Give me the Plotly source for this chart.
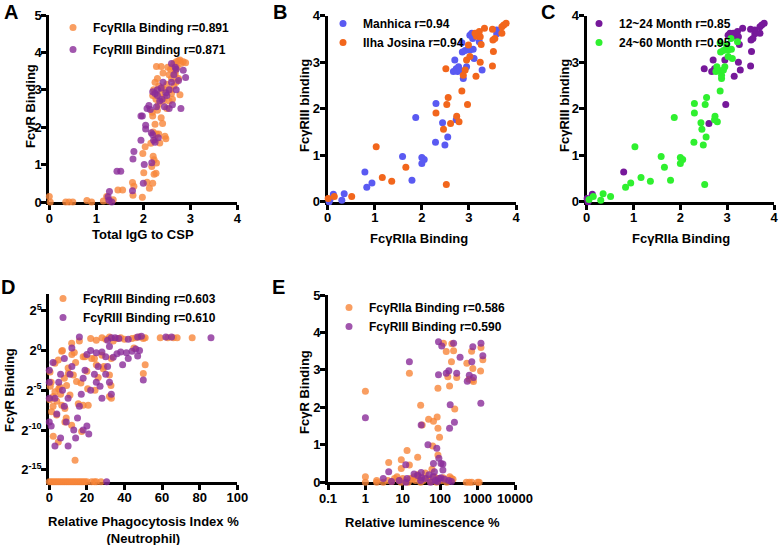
#!/usr/bin/env python3
"""
FcgR binding panels (A-E) rebuilt with plotly.
- A: FcgR binding vs total IgG to CSP
- B/C: FcgRIIa vs FcgRIII binding, coloured by site and by age group
- D: FcgR binding vs neutrophil phagocytosis (log2 axis)
- E: FcgR binding vs relative luminescence (log10 axis)
"""
import numpy as np
import plotly.graph_objects as go

# ---- Panel A: total IgG to CSP vs FcgR binding
a_iia_x = [0.0, 0.02, 0.35, 0.42, 0.5, 0.8, 0.9, 1.15, 1.22, 1.27, 1.36, 1.46, 1.56, 1.77, 1.8,
           1.78, 1.98, 2.01, 1.99, 2.04, 2.08, 2.13, 2.2, 2.16, 2.18, 2.23, 2.27, 2.23, 2.21, 2.28,
           2.21, 2.25, 2.28, 2.33, 2.35, 2.41, 2.46, 2.48, 2.19, 2.25,
           2.28, 2.38, 2.2, 2.22, 2.25, 2.3, 2.27, 2.32, 2.35, 2.4, 2.42, 2.45, 2.5, 2.5, 2.55, 2.58,
           2.6, 2.62, 2.65, 2.68, 2.7, 2.72, 2.75, 2.78, 2.8, 2.85, 2.9, 2.6, 2.65, 2.7, 2.75, 2.55,
           2.62, 2.78, 2.2, 2.3, 2.38, 2.68, 2.52, 2.42, 2.33, 2.45, 2.58]
a_iia_y = [0.15, 0.0, 0.0, 0.0, 0.0, 0.04, 0.0, 0.03, 0.15, 0.03, 0.06, 0.32, 0.32, 0.52, 0.42,
           0.18, 0.13, 0.78, 1.3, 1.48, 0.53, 0.37, 0.5, 1.57, 0.95, 0.74, 0.77, 1.13, 1.22, 1.04,
           1.87, 1.67, 1.82, 1.82, 1.58, 2.1, 1.76, 1.69, 2.4, 2.08,
           3.62, 3.62, 2.85, 3.0, 3.2, 3.3, 2.75, 2.6, 2.9, 3.05, 2.7, 3.0, 3.15, 2.5, 3.4, 3.55,
           3.3, 3.6, 3.7, 3.5, 3.75, 3.6, 3.78, 3.8, 3.7, 3.75, 3.72, 2.9, 3.1, 3.2, 3.3, 2.7,
           2.75, 2.87, 2.3, 2.45, 2.25, 3.42, 3.6, 3.45, 3.1, 2.8, 3.0]
a_iii_x = [1.25, 1.28, 1.33, 1.27, 1.44, 1.52, 1.77, 1.8, 1.78, 2.0, 2.02, 1.95, 1.98, 1.95, 2.05,
           2.08, 2.12, 2.15, 2.17, 2.2, 2.22, 2.28, 2.18, 2.25, 2.3, 2.35, 2.4, 2.45, 2.5, 2.55,
           2.6, 2.65, 2.7, 2.75, 2.8, 2.85, 2.9, 2.7, 2.62, 2.55, 2.42, 2.38, 2.3, 2.2, 2.48,
           2.68, 2.6, 2.25, 2.32, 2.05]
a_iii_y = [0.14, 0.28, 0.0, 0.05, 0.82, 0.82, 0.3, 1.35, 1.15, 0.5, 1.0, 1.65, 2.3, 2.3, 2.05,
           2.5, 2.58, 2.47, 1.85, 1.8, 1.65, 2.55, 1.05, 2.9, 2.85, 2.7, 2.75, 2.55, 2.85, 3.0,
           3.2, 3.4, 3.55, 3.25, 2.5, 3.52, 3.33, 3.0, 2.6, 2.5, 3.2, 3.05, 3.0, 2.95, 2.92,
           3.6, 3.7, 1.6, 1.72, 1.95]

# ---- Panels B/C: FcgRIIa vs FcgRIII binding per child; site and age group
bc_x = [0.03, 0.05, 0.12, 0.35, 0.3, 0.79, 0.83, 0.94, 1.59, 1.79, 1.87, 2.0, 2.05, 2.0, 2.29,
        2.3, 2.44, 2.49, 2.55, 2.73, 2.67, 2.73, 2.7, 2.78, 2.76, 2.81, 2.85, 2.86, 2.88, 2.92,
        2.95, 2.99, 3.02, 3.06, 3.08, 3.09, 3.11, 3.02, 3.22, 3.28, 3.59, 3.59,
        0.01, 0.14, 0.51, 1.03, 1.16, 1.36, 1.66, 2.3, 2.46, 2.51, 2.52, 2.53, 2.56, 2.61, 2.74,
        2.79, 2.85, 2.88, 2.92, 2.97, 2.95, 2.99, 3.02, 3.15, 3.24, 3.26, 3.16, 3.22, 3.24, 3.33,
        3.5, 3.51, 3.52, 3.55, 3.5, 3.7, 3.7, 3.74, 3.79, 3.13]
bc_y = [0.0, 0.05, 0.16, 0.17, 0.03, 0.64, 0.31, 0.4, 0.97, 0.46, 1.81, 0.95, 0.91, 0.82, 1.28,
        2.11, 1.7, 1.22, 1.39, 1.76, 2.8, 2.86, 3.05, 2.9, 2.8, 2.83, 3.42, 3.22, 2.65, 3.25,
        2.9, 3.3, 3.58, 3.62, 3.51, 3.28, 3.08, 3.26, 3.44, 2.83, 3.61, 3.69,
        0.07, 0.11, 0.11, 1.18, 0.52, 0.44, 0.74, 1.91, 1.56, 2.86, 0.37, 2.09, 2.24, 1.68, 1.84,
        1.72, 2.38, 2.72, 2.83, 2.09, 3.05, 3.37, 3.12, 2.7, 3.0, 3.38, 3.56, 3.66, 3.55, 3.73,
        2.92, 3.48, 3.23, 3.51, 3.71, 3.62, 3.76, 3.8, 3.84, 3.62]
bc_site = ['M'] * 42 + ['I'] * 40
bc_age = ['Y', 'O', 'Y', 'O', 'O', 'Y', 'O', 'O', 'O', 'O', 'O', 'O', 'O', 'O', 'O',
          'O', 'O', 'O', 'O', 'O', 'Y', 'Y', 'Y', 'O', 'O', 'O', 'O', 'O', 'O', 'O',
          'O', 'O', 'Y', 'Y', 'O', 'O', 'O', 'O', 'O', 'Y', 'Y', 'Y',
          'Y', 'O', 'O', 'O', 'O', 'O', 'O', 'O', 'O', 'Y', 'O', 'O', 'O', 'Y', 'O',
          'O', 'O', 'O', 'O', 'Y', 'Y', 'O', 'O', 'Y', 'Y', 'Y', 'Y', 'Y', 'Y', 'Y',
          'Y', 'Y', 'Y', 'Y', 'Y', 'Y', 'Y', 'Y', 'Y', 'Y']

# ---- Panel D: neutrophil phagocytosis vs FcgR binding (log2 exponent)
d_iia_x = [16, 22, 25, 28, 30, 32, 34, 36, 38, 40, 44, 46, 48, 50, 51, 59, 63, 66, 68, 76,
           7, 12, 18, 24, 28, 33, 45, 11.9,
           6.6, 13.3, 3.0, 4.8, 19, 22.5, 25, 28.7, 32, 32.8, 32, 33, 51, 50, 10.1, 12.8, 14.5,
           9.2, 5.7, 3, 2.1, 4.0, 6.6, 8.3, 11, 15.4, 18, 20.7, 24.3, 16.8, 20.4, 1.2, 3.9, 8.3,
           11.9, 17.2, 2.1, 4.8, 13.7, 0.4, 0.5, 0.3, 1.0, 5, 8, 10, 14, 20, 26, 29, 2, 6, 9]
d_iia_e = [1.2, 1.5, 1.3, 1.6, 1.4, 1.7, 1.2, 1.5, 1.6, 1.4, 1.5, 1.6, 1.7, 1.5, 1.6, 1.6, 1.6, 1.6, 1.6, 1.6,
           0.0, -0.5, -0.8, -1.0, -0.6, -1.0, 0.3, 0.9,
           -0.1, -0.25, -1.6, -1.2, -0.8, -1.0, -1.8, -2.3, -3.1, -4.4, -5.8, -6.0, -1.8, -2.9, -2.9,
           -3.1, -3.9, -4.4, -4.6, -5.2, -5.8, -6.4, -6.9, -7.3, -5.6, -6.7, -6.9, -6.9, -5.0, -4.1,
           -4.8, -7.7, -8.1, -9.0, -9.4, -10.2, -10.8, -11.5, -13.8, -2.7, -4.5, -6.2, -4.0, -4.8,
           -3.5, -2.2, -1.5, -2.6, -3.4, -2.0, -7.0, -5.5, -8.5]
d_iii_x = [16, 31, 33, 35, 37, 42, 47, 49, 65, 86, 62,
           2, 8, 12, 20, 22, 25, 28, 30, 32, 34, 36, 38, 41, 44, 46, 48, 39, 42, 47, 50,
           0, 0, 0, 0, 1, 3, 4, 5, 6, 7, 8, 9, 10, 11, 12, 13, 14, 15, 16, 17, 18, 19, 20, 22,
           24, 25, 26, 28, 30, 31, 32, 33, 3, 6, 18, 21, 27, 10]
d_iii_e = [1.7, 1.3, 1.6, 1.6, 1.5, 1.4, 1.7, 1.8, 1.7, 1.6, 1.7,
           -1.5, -1.0, 0.3, -0.5, 0.0, -0.3, -0.2, -0.8, 0.5, -0.85, -0.4, -0.2, -0.3, -0.1, 0.2,
           0.0, -1.8, -1.0, -0.7, -3.7,
           -2.5, -4.0, -6.0, -9.0, -9.5, -6.0, -8.0, -4.0, -3.0, -5.0, -7.0, -9.0, -6.0, -3.0,
           -2.0, -10.0, -11.0, -8.5, -7.0, -5.5, -3.5, -2.5, -9.5, -5.0, -3.0, -4.0, -2.0, -6.0,
           -3.0, -2.0, -4.0, -5.5, -12.0, -11.0, -10.0, -10.5, -4.5, -12.0]
# samples with zero binding (drawn on the axis floor)
d_iia_zero_x = [0, 1, 2, 3, 4, 5, 6, 7, 8, 9, 10, 11, 12, 13, 14, 15, 16, 17, 18, 19, 20,
                22.5, 24, 25, 27.5]
d_iii_zero_x = [30.5]

# ---- Panel E: relative luminescence vs FcgR binding
e_iia_x = [1, 15, 30, 33, 49, 66, 83, 87, 96, 87, 63, 87, 13, 25, 9.1, 4.2, 9.1, 15,
           145, 205, 228, 122, 160, 178, 200, 276, 245, 515, 692, 713, 776, 1230, 1200, 1380,
           745, 590,
           1, 1, 2, 2, 3, 4, 5, 6, 7, 8, 9, 10, 11, 12, 14, 16, 18, 20, 22, 25, 28, 30, 35, 40,
           45, 50, 55, 60, 70, 80, 90, 110, 120, 150, 180, 200, 220, 500, 600, 700, 1000, 1100]
e_iia_y = [2.43, 2.91, 2.06, 1.53, 1.68, 1.63, 1.74, 1.44, 1.2, 2.51, 0.97, 0.73, 0.85, 0.67,
           0.6, 0.53, 0.37, 0.46,
           3.49, 3.7, 3.51, 3.71, 2.82, 2.57, 3.22, 2.8, 1.96, 3.18, 3.5, 2.73, 2.69, 3.6, 2.97,
           3.27, 3.04, 2.75,
           0, 0.15, 0, 0.05, 0, 0.05, 0.02, 0.1, 0.15, 0.05, 0, 0.1, 0.02, 0.05, 0, 0.1, 0.08,
           0.15, 0.05, 0.2, 0.12, 0, 0.05, 0.25, 0.1, 0.08, 0.02, 0.35, 0.15, 0, 0.1, 0.05, 0.12,
           0, 0.15, 0.1, 0.08, 0, 0, 0, 0, 0]
e_iii_x = [1, 15, 31, 47, 81, 90, 90, 110, 145, 170, 228, 185, 178, 240, 276, 340, 530, 600,
           700, 745, 776, 1230, 1380, 1220, 92, 105, 118, 118, 66, 12, 70, 4.2, 31,
           3, 5, 8, 12, 13, 20, 25, 30, 32, 40, 50, 55, 65, 75, 85, 95, 105, 130, 170, 200]
e_iii_y = [1.72, 3.22, 1.53, 1.0, 0.91, 2.87, 3.75, 3.64, 2.91, 2.98, 3.71, 2.07, 1.44, 1.6,
           2.91, 3.34, 2.7, 2.86, 3.22, 3.62, 2.8, 3.71, 3.38, 2.11, 0.64, 0.5, 0.49, 0.33, 0.5,
           0.47, 0.28, 0.28, 0.26,
           0.1, 0.02, 0.05, 0.0, 0.1, 0.22, 0.18, 0.05, 0.12, 0.1, 0.2, 0.0, 0.15, 0.05, 0.02,
           0.1, 0.12, 0.08, 0.05, 0.02]

# Style constants
W, H = 779, 545
FONT = 'Liberation Sans, Arial, Helvetica, sans-serif'
ORANGE = '#F7863A'
PURPLE = '#8A2C98'
BLUE = '#5A5AF2'
RED_ORANGE = '#F2661C'
DARK_PURPLE = '#76189A'
GREEN = '#2FF02F'
D_FLOOR = -16.5  # log2 floor of panel D (zero values sit here)
# drop the default 8px <body> margin so the figure fills the window
POST_JS = "document.body.style.margin = '0'; document.body.style.overflow = 'hidden';"


def px_x(p):
    """Screen pixel -> paper fraction (x)."""
    return p / W


def px_y(p):
    """Screen pixel -> paper fraction (y)."""
    return 1 - p / H


def axis_style(**kw):
    """GraphPad-like axis: thick left/bottom line, outside ticks, bold labels."""
    base = dict(
        showline=True, linecolor='black', linewidth=3, mirror=False,
        ticks='outside', ticklen=5, tickwidth=3, tickcolor='black',
        showgrid=False, zeroline=False, tickangle=0, automargin=False,
        ticklabelstandoff=-3,
        tickfont=dict(family=FONT, size=13, color='black', weight='bold'),
        layer='below traces', fixedrange=True,
    )
    base.update(kw)
    return base


def dots(x, y, color, name, xa, ya, legend, opacity=0.8, size=7):
    return go.Scatter(
        x=x, y=y, mode='markers', name=f'<b>{name}</b>',
        marker=dict(color=color, size=size, opacity=opacity, line=dict(width=0)),
        xaxis=xa, yaxis=ya, legend=legend, legendgroup=name, cliponaxis=False,
        hoverinfo='skip',
    )


def text_note(text, x, y, size=13, angle=0):
    return dict(text=f'<b>{text}</b>', x=px_x(x), y=px_y(y), xref='paper', yref='paper',
                showarrow=False, textangle=angle, xanchor='center', yanchor='middle',
                font=dict(family=FONT, size=size, color='black'))


def build_figure():
    fig = go.Figure()

    # A
    fig.add_trace(dots(a_iia_x, a_iia_y, ORANGE, 'FcγRIIa Binding r=0.891', 'x', 'y', 'legend'))
    fig.add_trace(dots(a_iii_x, a_iii_y, PURPLE, 'FcγRIII Binding r=0.871', 'x', 'y', 'legend'))

    # B (site) and C (age group)
    bx, by = np.array(bc_x), np.array(bc_y)
    site, age = np.array(bc_site), np.array(bc_age)
    fig.add_trace(dots(bx[site == 'M'], by[site == 'M'], BLUE, 'Manhica r=0.94',
                       'x2', 'y2', 'legend2', opacity=1))
    fig.add_trace(dots(bx[site == 'I'], by[site == 'I'], RED_ORANGE, 'Ilha Josina r=0.94',
                       'x2', 'y2', 'legend2', opacity=1))
    fig.add_trace(dots(bx[age == 'Y'], by[age == 'Y'], DARK_PURPLE, '12~24 Month r=0.85',
                       'x3', 'y3', 'legend3', opacity=1))
    fig.add_trace(dots(bx[age == 'O'], by[age == 'O'], GREEN, '24~60 Month r=0.95',
                       'x3', 'y3', 'legend3', opacity=1))

    # D (zeros drawn on the axis floor)
    d1x = d_iia_x + d_iia_zero_x
    d1y = d_iia_e + [D_FLOOR] * len(d_iia_zero_x)
    d2x = d_iii_x + d_iii_zero_x
    d2y = d_iii_e + [D_FLOOR] * len(d_iii_zero_x)
    fig.add_trace(dots(d1x, d1y, ORANGE, 'FcγRIII Binding r=0.603', 'x4', 'y4', 'legend4'))
    fig.add_trace(dots(d2x, d2y, PURPLE, 'FcγRIII Binding r=0.610', 'x4', 'y4', 'legend4'))

    # E
    fig.add_trace(dots(e_iia_x, e_iia_y, ORANGE, 'FcγRIIa Binding r=0.586', 'x5', 'y5', 'legend5'))
    fig.add_trace(dots(e_iii_x, e_iii_y, PURPLE, 'FcγRIII Binding r=0.590', 'x5', 'y5', 'legend5'))

    xa_dom = [px_x(49.3), px_x(237.3)]
    xb_dom = [px_x(327.7), px_x(516)]
    xc_dom = [px_x(586.7), px_x(774)]
    xe_dom = [px_x(328), px_x(515)]
    top_dom = [px_y(202), px_y(15)]
    bc_dom = [px_y(201.7), px_y(15.7)]
    bot_dom = [px_y(481.7), px_y(294)]
    e_dom = [px_y(482.3), px_y(295)]
    lin4 = [0, 1, 2, 3, 4]

    layout = dict(
        width=W, height=H, margin=dict(l=0, r=0, t=0, b=0, autoexpand=False),
        paper_bgcolor='white', plot_bgcolor='white',
        font=dict(family=FONT, color='black'),
        xaxis=axis_style(domain=xa_dom, anchor='y', range=[0, 4], tickvals=lin4),
        yaxis=axis_style(domain=top_dom, anchor='x', range=[0, 5], tickvals=[0, 1, 2, 3, 4, 5]),
        xaxis2=axis_style(domain=xb_dom, anchor='y2', range=[0, 4], tickvals=lin4),
        yaxis2=axis_style(domain=bc_dom, anchor='x2', range=[0, 4], tickvals=lin4),
        xaxis3=axis_style(domain=xc_dom, anchor='y3', range=[0, 4], tickvals=lin4),
        yaxis3=axis_style(domain=bc_dom, anchor='x3', range=[0, 4], tickvals=lin4),
        xaxis4=axis_style(domain=xa_dom, anchor='y4', range=[0, 100],
                          tickvals=[0, 20, 40, 60, 80, 100]),
        yaxis4=axis_style(domain=bot_dom, anchor='x4', range=[D_FLOOR, 7.1],
                          tickvals=[-15, -10, -5, 0, 5],
                          ticktext=['2<sup>-15</sup>', '2<sup>-10</sup>', '2<sup>-5</sup>',
                                    '2<sup>0</sup>', '2<sup>5</sup>']),
        xaxis5=axis_style(domain=xe_dom, anchor='y5', type='log', range=[-1, 4],
                          tickvals=[0.1, 1, 10, 100, 1000, 10000],
                          ticktext=['0.1', '1', '10', '100', '1000', '10000']),
        yaxis5=axis_style(domain=e_dom, anchor='x5', range=[0, 5], tickvals=[0, 1, 2, 3, 4, 5]),
    )

    leg = dict(font=dict(family=FONT, size=12, color='black'), bgcolor='rgba(0,0,0,0)',
               borderwidth=0, xanchor='left', yanchor='top', tracegroupgap=0,
               itemclick=False, itemdoubleclick=False)
    layout['legend'] = dict(leg, x=px_x(53), y=px_y(13), tracegroupgap=3)
    layout['legend2'] = dict(leg, x=px_x(323), y=px_y(9))
    layout['legend3'] = dict(leg, x=px_x(579), y=px_y(9))
    layout['legend4'] = dict(leg, x=px_x(43), y=px_y(284))
    layout['legend5'] = dict(leg, x=px_x(329), y=px_y(293))

    notes = [
        # panel letters
        text_note('A', 11, 12, size=20), text_note('B', 280, 12, size=20),
        text_note('C', 548, 12, size=20), text_note('D', 8, 287, size=20),
        text_note('E', 278, 287, size=20),
        # axis titles
        text_note('Total IgG to CSP', 143, 234),
        text_note('FcγR Binding', 30, 106, angle=-90),
        text_note('FcγRIIa Binding', 419, 238),
        text_note('FcγRIII binding', 304, 106, angle=-90),
        text_note('FcγRIIa Binding', 681, 238),
        text_note('FcγRIII binding', 564, 106, angle=-90),
        text_note('Relative Phagocytosis Index %<br>(Neutrophil)', 143, 530),
        text_note('FcγR Binding', 9, 390, angle=-90),
        text_note('Relative luminescence %', 422, 522),
        text_note('FcγR Binding', 304, 392, angle=-90),
    ]
    layout['annotations'] = notes
    fig.update_layout(**layout)
    return fig


def main():
    fig = build_figure()
    fig.write_html("out.html", post_script=POST_JS, config={'displayModeBar': False})


if __name__ == '__main__':
    main()
